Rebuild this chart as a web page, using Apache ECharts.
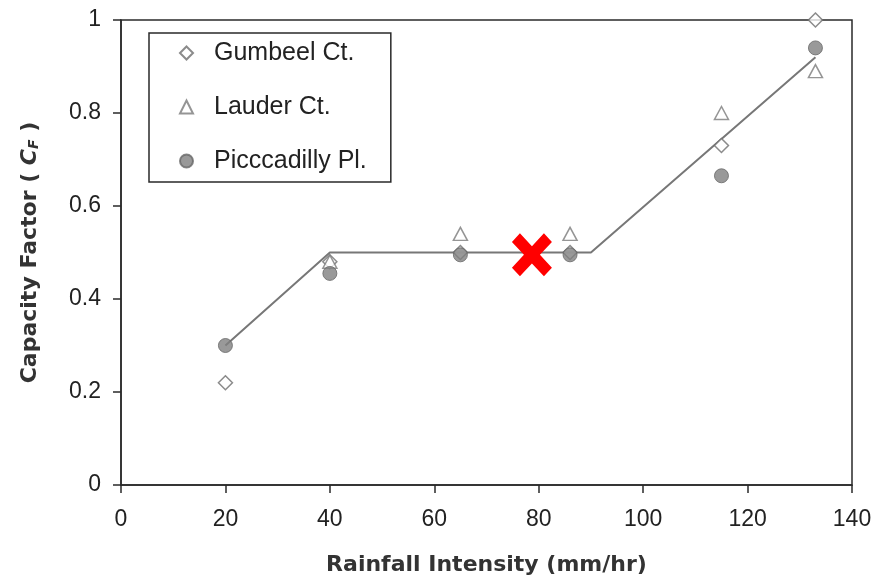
<!DOCTYPE html>
<html>
<head>
<meta charset="utf-8">
<script src="https://cdn.jsdelivr.net/npm/echarts@6/dist/echarts.min.js"></script>
<style>
  html, body { margin: 0; padding: 0; background: #fff; }
  #chart { width: 879px; height: 583px; }
</style>
</head>
<body>
<div id="chart"></div>
<script>
// rainfall intensity (mm/hr) and capacity factor for each site
const gumbeelX = [20, 40, 65, 86, 115, 133]
const gumbeelY = [0.22, 0.48, 0.50, 0.50, 0.73, 1.0]
const lauderX = [40, 65, 86, 115, 133]
const lauderY = [0.48, 0.54, 0.54, 0.80, 0.89]
const piccX = [20, 40, 65, 86, 115, 133]
const piccY = [0.30, 0.455, 0.495, 0.495, 0.665, 0.94]
// fitted piecewise line
const fitX = [20, 40, 90, 133]
const fitY = [0.30, 0.50, 0.50, 0.92]
// red cross marker
const crossX = [78.7]
const crossY = [0.495]

const zip = (xs, ys) => xs.map((x, i) => [x, ys[i]])
const font = 'DejaVu Sans'
const labelFont = 'Liberation Sans'
const axisColor = '#2a2a2a'
const textColor = '#222'

const option = {
  animation: false,
  grid: {
    left: 121, right: 27, top: 20, bottom: 98,
    show: true,
    borderColor: axisColor,
    borderWidth: 1.5
  },
  legend: {
    left: 149, top: 33,
    orient: 'vertical',
    data: ['Gumbeel Ct.', 'Lauder Ct.', 'Picccadilly Pl.'],
    backgroundColor: '#fff',
    borderColor: axisColor,
    borderWidth: 1.5,
    borderRadius: 0,
    padding: [7, 24, 8, 30],
    itemWidth: 13,
    itemHeight: 13,
    itemGap: 28,
    textStyle: { fontFamily: labelFont, fontSize: 25, lineHeight: 26, color: textColor, padding: [0, 0, 0, 16] }
  },
  xAxis: {
    type: 'value',
    min: 0, max: 140, interval: 20,
    name: 'Rainfall Intensity (mm/hr)',
    nameLocation: 'middle',
    nameGap: 69,
    nameTextStyle: { fontFamily: font, fontSize: 22, fontWeight: 'bold', color: '#333' },
    axisLine: { show: true, lineStyle: { color: axisColor, width: 1.5 } },
    axisTick: { show: true, length: 8, lineStyle: { color: axisColor, width: 1.5 } },
    axisLabel: { fontFamily: labelFont, fontSize: 23, color: textColor, margin: 23 },
    splitLine: { show: false }
  },
  yAxis: {
    type: 'value',
    min: 0, max: 1, interval: 0.2,
    name: '{b|Capacity Factor ( }{i|C}{s|F}{b| )}',
    nameLocation: 'middle',
    nameRotate: 90,
    nameGap: 80,
    nameTextStyle: {
      color: '#333',
      rich: {
        b: { fontFamily: font, fontSize: 22, fontWeight: 'bold', color: '#333' },
        i: { fontFamily: font, fontSize: 22, fontWeight: 'bold', fontStyle: 'italic', color: '#333' },
        s: { fontFamily: font, fontSize: 14, fontWeight: 'bold', fontStyle: 'italic', color: '#333', verticalAlign: 'bottom' }
      }
    },
    axisLine: { show: true, lineStyle: { color: axisColor, width: 1.5 } },
    axisTick: { show: true, length: 8, lineStyle: { color: axisColor, width: 1.5 } },
    axisLabel: { fontFamily: labelFont, fontSize: 23, color: textColor, margin: 20 },
    splitLine: { show: false }
  },
  series: [
    {
      type: 'line',
      data: zip(fitX, fitY),
      showSymbol: false,
      symbol: 'none',
      lineStyle: { color: '#777', width: 2 },
      z: 1
    },
    {
      name: 'Gumbeel Ct.',
      type: 'scatter',
      data: zip(gumbeelX, gumbeelY),
      symbol: 'diamond',
      symbolSize: 14,
      itemStyle: { color: '#fff', borderColor: '#6e6e6e', borderWidth: 1.5 },
      z: 2
    },
    {
      name: 'Lauder Ct.',
      type: 'scatter',
      data: zip(lauderX, lauderY),
      symbol: 'triangle',
      symbolSize: [14, 13],
      itemStyle: { color: '#fff', borderColor: '#7a7a7a', borderWidth: 1.5 },
      z: 3
    },
    {
      name: 'Picccadilly Pl.',
      type: 'scatter',
      data: zip(piccX, piccY),
      symbol: 'circle',
      symbolSize: 14,
      itemStyle: { color: '#808080', borderColor: '#666', borderWidth: 1 },
      z: 4
    },
    {
      type: 'scatter',
      data: zip(crossX, crossY),
      symbol: 'path://M0,4 L4,0 L10,6 L16,0 L20,4 L14,10 L20,16 L16,20 L10,14 L4,20 L0,16 L6,10 Z',
      symbolSize: [40, 43],
      itemStyle: { color: '#ff0000', opacity: 1 },
      z: 5
    }
  ]
}

const myChart = echarts.init(document.getElementById('chart'))
myChart.setOption(option)
</script>
</body>
</html>
